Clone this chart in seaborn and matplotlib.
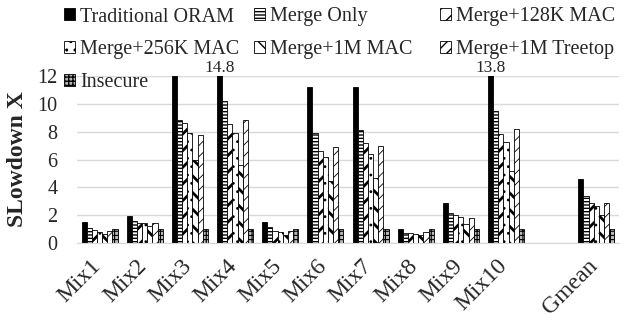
import matplotlib
matplotlib.use("Agg")
import matplotlib.pyplot as plt
from matplotlib.patches import Patch
from matplotlib.font_manager import FontProperties
from matplotlib.transforms import ScaledTranslation
import seaborn as sns
import pandas as pd

categories = ["Mix1", "Mix2", "Mix3", "Mix4", "Mix5", "Mix6", "Mix7", "Mix8", "Mix9", "Mix10", "Gmean"]
order = ["Mix1", "Mix2", "Mix3", "Mix4", "Mix5", "Mix6", "Mix7", "Mix8", "Mix9", "Mix10", " ", "Gmean"]
series_names = ["Traditional ORAM", "Merge Only", "Merge+128K MAC", "Merge+256K MAC",
                "Merge+1M MAC", "Merge+1M Treetop", "Insecure"]

traditional = [1.52, 1.93, 12.0, 14.8, 1.52, 11.22, 11.22, 0.98, 2.89, 13.8, 4.58]
merge_only = [1.04, 1.57, 8.86, 10.25, 1.11, 7.94, 8.13, 0.72, 2.12, 9.51, 3.37]
mac128k = [0.92, 1.45, 8.67, 8.57, 0.84, 6.64, 7.17, 0.67, 2.00, 7.85, 2.89]
mac256k = [0.80, 1.40, 7.94, 7.90, 0.80, 6.16, 6.38, 0.60, 1.83, 7.27, 2.67]
mac1m = [0.63, 1.20, 5.97, 5.61, 0.56, 4.48, 4.65, 0.56, 1.33, 5.18, 2.00]
treetop = [0.87, 1.45, 7.78, 8.86, 0.87, 6.88, 6.98, 0.80, 1.81, 8.21, 2.84]
insecure = [1.0, 1.0, 1.0, 1.0, 1.0, 1.0, 1.0, 1.0, 1.0, 1.0, 1.0]

series_values = [traditional, merge_only, mac128k, mac256k, mac1m, treetop, insecure]

rows = []
for name, vals in zip(series_names, series_values):
    for c, v in zip(categories, vals):
        rows.append({"cat": c, "series": name, "value": v})
df = pd.DataFrame(rows)

sns.set_style("white")
plt.rcParams["font.family"] = ["Liberation Serif", "DejaVu Serif"]
plt.rcParams["hatch.linewidth"] = 1.0

styles = {
    "Traditional ORAM": dict(face="black", hatch="", hlw=1.0),
    "Merge Only": dict(face="white", hatch="-----", hlw=1.0),
    "Merge+128K MAC": dict(face="white", hatch="//", hlw=2.0),
    "Merge+256K MAC": dict(face="white", hatch="..", hlw=0.8),
    "Merge+1M MAC": dict(face="white", hatch="\\\\", hlw=2.0),
    "Merge+1M Treetop": dict(face="white", hatch="///", hlw=0.6),
    "Insecure": dict(face="#b8b8b8", hatch="++++", hlw=0.8),
}

def style_patch(p, st):
    p.set_facecolor(st["face"])
    p.set_hatch(st["hatch"])
    p.set_edgecolor("black")
    p.set_linewidth(0.6)
    if hasattr(p, "set_hatch_linewidth"):
        p.set_hatch_linewidth(st["hlw"])

fig = plt.figure(figsize=(6.27, 3.2), dpi=100)
ax = fig.add_axes([0.1228, 0.2416, 0.8644, 0.5194])

sns.barplot(data=df, x="cat", y="value", hue="series", order=order,
            hue_order=series_names, ax=ax, width=0.8, legend=False,
            edgecolor="black", linewidth=0.6, saturation=1)

for name, cont in zip(series_names, ax.containers):
    for p in cont.patches:
        style_patch(p, styles[name])

ax.set_ylim(0, 12)
ax.set_xlim(-0.5, len(order) - 0.5)
ax.set_yticks([0, 2, 4, 6, 8, 10, 12])
ax.yaxis.grid(True, color="#d9d9d9", linewidth=1.0)
ax.set_axisbelow(True)
for s in ["left", "top", "right"]:
    ax.spines[s].set_visible(False)
ax.spines["bottom"].set_color("#d9d9d9")
ax.tick_params(axis="y", length=0, pad=14, labelsize=14.5)
ax.tick_params(axis="x", length=0, pad=5, labelsize=17)
offset = ScaledTranslation(-9 / 100, -6 / 100, fig.dpi_scale_trans)
for lab in ax.get_xticklabels():
    lab.set_rotation(45)
    lab.set_ha("right")
    lab.set_rotation_mode("anchor")
    lab.set_transform(lab.get_transform() + offset)
ax.set_xlabel("")
ax.set_ylabel("SLowdown X", fontsize=17, fontweight="bold")
ax.yaxis.set_label_coords(-0.09, 0.5)

# labels for clipped bars
trad_bars = ax.containers[0].patches
for bar, v in zip(trad_bars, traditional):
    if v > 12:
        ax.text(bar.get_x() + bar.get_width() / 2, 12.05, f"{v}", ha="center",
                va="bottom", fontsize=12.5, clip_on=False)

def handle(name):
    p = Patch(label=name)
    style_patch(p, styles[name])
    return p

legend_font = FontProperties(family=["Liberation Serif"], size=14.5)
columns = [
    (["Traditional ORAM", "Merge+256K MAC", "Insecure"], 64),
    (["Merge Only", "Merge+1M MAC"], 254),
    (["Merge+128K MAC", "Merge+1M Treetop"], 440),
]
for names, xpx in columns:
    fig.legend(handles=[handle(n) for n in names], labels=names,
               loc="upper left", bbox_to_anchor=(xpx / 627, 1 - 7.5 / 320),
               frameon=False, prop=legend_font, borderpad=0, borderaxespad=0,
               handlelength=0.55, handleheight=0.55, handletextpad=0.25,
               labelspacing=0.68)

fig.savefig("out.png", dpi=100)
